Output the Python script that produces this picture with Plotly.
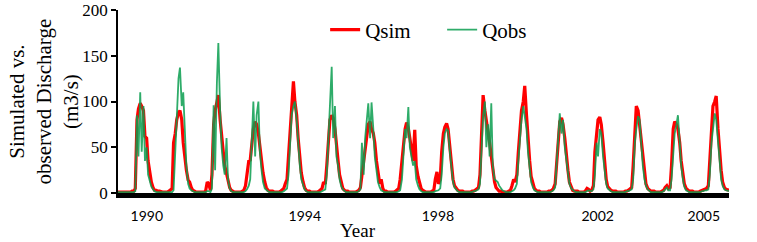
import pandas as pd
import plotly.graph_objects as go

# Semi-monthly discharge (m3/s), one row per year 1990..2005, 24 values per year
qsim = [
    1,1,1,1,1,1,1,1,1,2,2,5,80,92,98,95,90,62,60,35,20,12,6,3,          # 1990
    3,2,2,1,1,1,1,1,2,3,5,55,65,80,88,90,80,55,35,25,14,12,6,3,         # 1991
    2,1,1,1,1,1,1,2,12,10,3,20,75,90,100,107,80,60,45,30,20,12,6,3,     # 1992
    2,1,1,1,1,1,2,3,8,20,35,36,55,70,78,75,65,50,35,22,12,6,3,2,        # 1993
    2,2,1,1,1,1,2,3,5,10,15,40,70,100,122,100,85,60,40,22,12,6,3,2,     # 1994
    2,1,1,1,1,1,2,3,5,12,10,30,60,80,85,82,70,50,35,20,10,5,3,2,        # 1995
    2,1,1,1,1,1,2,3,6,20,30,45,65,75,78,70,65,55,35,20,10,15,5,2,       # 1996
    2,1,1,1,1,1,2,3,5,15,35,55,70,77,70,60,45,35,69,30,18,10,5,3,       # 1997
    2,1,1,1,1,2,3,15,23,10,15,45,65,72,76,70,50,30,15,8,5,3,2,2,        # 1998
    2,1,1,1,1,1,2,2,3,4,6,20,70,107,90,80,70,55,40,25,12,6,3,2,         # 1999
    2,1,1,1,1,2,3,8,15,12,20,45,70,90,100,117,85,55,35,18,10,5,3,2,     # 2000
    2,1,1,1,1,1,2,2,3,5,10,35,60,78,82,75,60,40,25,12,6,3,2,2,          # 2001
    2,1,1,1,1,2,5,4,2,3,8,45,70,80,83,75,55,30,15,7,4,3,2,2,            # 2002
    2,1,1,1,1,1,2,2,3,4,6,30,75,95,90,75,55,35,20,10,5,3,2,2,           # 2003
    2,1,1,1,1,2,3,6,8,5,6,30,70,78,75,70,55,35,20,10,5,3,2,2,           # 2004
    2,1,1,1,1,2,3,3,4,5,8,40,75,95,100,106,70,45,25,12,6,4,3,3,         # 2005
]

qobs = [
    1,1,1,1,1,1,1,1,1,1,1,2,85,40,110,45,95,35,50,20,12,7,4,2,          # 1990
    1,1,1,1,1,1,1,1,1,1,1,3,40,75,125,137,95,110,60,30,10,5,3,2,        # 1991
    1,1,1,1,1,1,1,1,2,2,1,5,96,25,120,164,90,50,30,20,60,15,5,2,        # 1992
    1,1,1,1,1,1,1,1,2,4,8,15,60,100,40,85,100,45,25,12,5,3,2,1,         # 1993
    1,1,1,1,1,1,1,1,2,3,5,20,55,85,95,100,80,50,30,15,8,4,2,1,          # 1994
    1,1,1,1,1,1,1,1,2,3,4,20,65,90,138,60,95,40,30,15,7,4,2,1,          # 1995
    1,1,1,1,1,1,1,2,4,55,20,60,80,98,60,99,70,40,25,12,6,3,2,1,         # 1996
    1,1,1,1,1,1,1,1,2,3,15,40,70,60,94,50,40,30,35,15,8,4,2,1,          # 1997
    1,1,1,1,1,1,1,2,3,3,5,20,50,65,70,68,45,25,12,6,3,2,1,1,            # 1998
    1,1,1,1,1,1,1,2,2,3,4,10,60,85,100,50,75,40,98,30,15,14,12,8,       # 1999
    5,3,2,1,1,1,1,2,3,5,10,35,60,80,95,85,70,45,25,12,6,3,2,1,          # 2000
    1,1,1,1,1,1,1,1,2,3,6,30,55,87,65,80,50,35,20,10,5,3,2,1,           # 2001
    1,1,1,1,1,1,2,3,2,2,4,20,55,40,70,65,40,22,10,5,3,2,1,1,            # 2002
    1,1,1,1,1,1,1,2,2,3,4,15,55,70,84,80,50,30,15,8,4,2,1,1,            # 2003
    1,1,1,1,1,1,2,4,6,3,3,15,50,65,75,85,55,30,15,7,3,2,1,1,            # 2004
    1,1,1,1,1,1,2,2,3,3,4,20,55,70,87,80,55,30,15,8,4,3,2,2,            # 2005
]

tick_labels = ["1990", "1994", "1998", "2002", "2005"]
tick_dates = ["1990-10-03", "1994-11-17", "1998-05-10", "2002-07-12", "2005-04-19"]

dates = pd.date_range("1990-01-01", periods=len(qsim), freq="SMS")

SERIF = "Liberation Serif, Times New Roman, serif"

fig = go.Figure()
fig.add_trace(go.Scatter(x=dates, y=qsim, mode="lines", name="Qsim",
                         line=dict(color="#FF0000", width=3.2)))
fig.add_trace(go.Scatter(x=dates, y=qobs, mode="lines", name="Qobs",
                         line=dict(color="#0A9E50", width=1.8), opacity=0.85))

fig.update_layout(
    width=757, height=242,
    margin=dict(l=118, r=28, t=10, b=49, autoexpand=False),
    plot_bgcolor="white", paper_bgcolor="white",
    showlegend=True,
    legend=dict(orientation="h", x=0.339, xanchor="left", y=0.891, yanchor="middle",
                font=dict(family=SERIF, size=21, color="black"),
                bgcolor="rgba(0,0,0,0)", itemwidth=30, entrywidth=72),
    xaxis=dict(type="date", range=[dates[0], dates[-1]],
               showgrid=False, zeroline=False,
               showline=True, linecolor="black", linewidth=5,
               ticks="", tickmode="array", tickvals=tick_dates, ticktext=tick_labels,
               tickfont=dict(family="Lato", size=14, color="black"),
               ticklabelstandoff=6),
    yaxis=dict(range=[0, 200], tickvals=[0, 50, 100, 150, 200],
               showgrid=False, zeroline=False,
               showline=True, linecolor="black", linewidth=1.5,
               ticks="outside", ticklen=5, tickcolor="black", tickwidth=1.5,
               tickfont=dict(family=SERIF, size=17, color="black")),
    annotations=[
        dict(text="Simulated vs.<br>observed Discharge<br>(m3/s)", textangle=-90,
             xref="paper", yref="paper", x=-0.1211, y=0.5, xanchor="center", yanchor="middle",
             showarrow=False, font=dict(family=SERIF, size=21, color="black")),
        dict(text="Year", xref="paper", yref="paper", x=0.393, y=-0.205,
             xanchor="center", yanchor="middle", showarrow=False,
             font=dict(family=SERIF, size=19, color="black")),
    ],
)

fig.write_html("out.html", config={"displayModeBar": False},
               post_script="document.body.style.margin='0';document.body.style.overflow='hidden';")
